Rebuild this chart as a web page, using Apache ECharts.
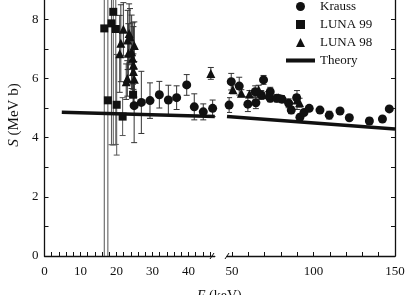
<!DOCTYPE html>
<html><head><meta charset="utf-8">
<script src="https://cdn.jsdelivr.net/npm/echarts@6/dist/echarts.min.js"></script>
<style>html,body{margin:0;padding:0;background:#fff}#c{width:416px;height:295px}</style>
</head><body><div id="c"></div>
<script>
// ---- data ----
const krLeftX = [24.9, 26.9, 29.3, 31.9, 34.4, 36.7, 39.5, 41.6, 44.1, 46.7];
const krLeftY = [5.08, 5.19, 5.25, 5.45, 5.27, 5.35, 5.78, 5.04, 4.87, 4.99];
const krLeftE = [1.25, 1.05, 0.6, 0.45, 0.5, 0.4, 0.35, 0.44, 0.27, 0.28];
const krRightX = [48.3, 49.6, 54.5, 59.8, 64.3, 64.7, 68.0, 69.4, 73.5, 73.5, 77.6, 80.7, 84.8, 86.4, 89.7, 91.7, 94.2, 97.4, 104.0, 109.7, 116.3, 122.0, 134.3, 142.3, 146.5];
const krRightY = [5.10, 5.89, 5.74, 5.13, 5.55, 5.18, 5.44, 5.95, 5.55, 5.33, 5.33, 5.30, 5.16, 4.93, 5.35, 4.69, 4.85, 4.99, 4.93, 4.76, 4.90, 4.67, 4.56, 4.63, 4.97];
const krRightE = [0.25, 0.28, 0.3, 0.25, 0.2, 0.2, 0.15, 0.15, 0.15, 0.12, 0.12, 0.12, 0.15, 0.12, 0.1, 0.1, 0.1, 0.08, 0.08, 0.13, 0.08, 0.08, 0.1, 0.08, 0.08];
const l99X = [16.6, 17.6, 18.6, 19.1, 19.8, 20.05, 21.7, 24.6];
const l99Y = [7.69, 5.26, 7.86, 8.25, 7.67, 5.11, 4.71, 5.45];
const l99E = [9.0, 6.0, 4.1, 4.5, 3.9, 1.7, 0.64, 0.35];
const l98LeftX = [20.9, 21.2, 21.9, 22.7, 23.0, 23.1, 23.3, 23.5, 23.75, 24.2, 24.5, 24.7, 24.7, 24.95, 24.95, 46.2];
const l98LeftY = [6.83, 7.19, 7.66, 5.89, 6.0, 7.30, 6.85, 7.52, 7.41, 6.90, 6.68, 6.45, 6.23, 7.11, 5.97, 6.17];
const l98LeftE = [1.3, 1.3, 0.9, 0.6, 0.6, 1.0, 1.0, 1.0, 0.95, 1.24, 1.2, 1.3, 0.6, 0.8, 0.6, 0.2];
const l98RightX = [50.6, 55.8, 60.8, 66.4, 72.0, 78.5, 89.9, 91.5];
const l98RightY = [5.63, 5.50, 5.47, 5.62, 5.45, 5.35, 5.27, 5.18];
const l98RightE = [0.15, 0.12, 0.12, 0.15, 0.1, 0.1, 0.32, 0.15];
const thLeftX = [4.8, 47.3];
const thLeftY = [4.86, 4.71];
const thRightX = [47, 150];
const thRightY = [4.71, 4.29];
const yTicks = [0, 1, 2, 3, 4, 5, 6, 7, 8];
const yLabels = [0, 2, 4, 6, 8];
const xLeftTicks = [0, 2, 4, 6, 8, 10, 12, 14, 16, 18, 20, 22, 24, 26, 28, 30, 32, 34, 36, 38, 40, 42, 44, 46];
const xLeftLabels = [0, 10, 20, 30, 40];
const xRightTicks = [50, 60, 70, 80, 90, 100, 110, 120, 130, 140, 150];
const xRightLabels = [50, 100, 150];
const seriesNames = ['Krauss', 'LUNA 99', 'LUNA 98', 'Theory'];

const FONT = 'Liberation Serif';
const INK = '#111';
const zip2 = (xs, ys) => xs.map((x, i) => [x, ys[i]]);
const zip3 = (xs, ys, es) => xs.map((x, i) => [x, ys[i], es[i]]);

let errCount = 0;
function errSeries(xs, ys, es, idx, color) {
  errCount++;
  return {
    type: 'custom', name: 'err' + errCount, xAxisIndex: idx, yAxisIndex: idx, clip: true, silent: true,
    data: zip3(xs, ys, es), z: 1,
    renderItem: function (params, api) {
      const x = api.value(0), y = api.value(1), e = api.value(2);
      const a = api.coord([x, y + e]), b = api.coord([x, y - e]);
      const hw = 3;
      const st = { stroke: color, lineWidth: 1 };
      return { type: 'group', children: [
        { type: 'line', shape: { x1: a[0], y1: a[1], x2: b[0], y2: b[1] }, style: st },
        { type: 'line', shape: { x1: a[0] - hw, y1: a[1], x2: a[0] + hw, y2: a[1] }, style: st },
        { type: 'line', shape: { x1: b[0] - hw, y1: b[1], x2: b[0] + hw, y2: b[1] }, style: st }
      ] };
    }
  };
}
function scat(name, xs, ys, idx, symbol, size) {
  return { type: 'scatter', name: name, xAxisIndex: idx, yAxisIndex: idx, data: zip2(xs, ys),
    symbol: symbol, symbolSize: size, itemStyle: { color: INK, opacity: 1 }, z: 3, clip: true };
}
function theory(xs, ys, idx) {
  return { type: 'line', name: 'Theory', xAxisIndex: idx, yAxisIndex: idx, data: zip2(xs, ys),
    symbol: 'none', lineStyle: { color: INK, width: 3.5 }, itemStyle: { color: INK }, z: 4 };
}
const axLine = { show: true, lineStyle: { color: INK, width: 1.3 } };
const lbl = { fontFamily: FONT, fontSize: 13, color: INK };
const SQ = 'path://M0,0L10,0L10,10L0,10Z';
const TRI = 'path://M5,0L10,10L0,10Z';
const BAR = 'path://M0,0L30,0L30,4.2L0,4.2Z';

const option = {
  animation: false,
  backgroundColor: '#fff',
  grid: [
    { left: 44.5, right: 201.2, top: 0, bottom: 39 },
    { left: 227, right: 21, top: 0, bottom: 39 }
  ],
  xAxis: [
    { type: 'value', gridIndex: 0, min: 0, max: 47.3, axisLine: axLine, splitLine: { show: false },
      axisTick: { inside: true, length: 4, customValues: xLeftTicks, lineStyle: { color: INK } },
      axisLabel: Object.assign({ customValues: xLeftLabels, margin: 9 }, lbl) },
    { type: 'value', gridIndex: 1, min: 47, max: 150, axisLine: axLine, splitLine: { show: false },
      axisTick: { inside: true, length: 4, customValues: xRightTicks, lineStyle: { color: INK } },
      axisLabel: Object.assign({ customValues: xRightLabels, margin: 9 }, lbl) }
  ],
  yAxis: [
    { type: 'value', gridIndex: 0, min: 0, max: 8.65, axisLine: axLine, splitLine: { show: false },
      axisTick: { inside: true, length: 4, customValues: yTicks, lineStyle: { color: INK } },
      axisLabel: Object.assign({ customValues: yLabels, margin: 6 }, lbl) },
    { type: 'value', gridIndex: 1, position: 'right', min: 0, max: 8.65, axisLine: axLine, splitLine: { show: false },
      axisTick: { inside: true, length: 4, customValues: yTicks, lineStyle: { color: INK } },
      axisLabel: { show: false } }
  ],
  legend: {
    data: [
      { name: 'Krauss', icon: 'circle' },
      { name: 'LUNA 99', icon: SQ },
      { name: 'LUNA 98', icon: TRI },
      { name: 'Theory', icon: BAR }
    ],
    orient: 'vertical', left: 286, top: 0, padding: 0, itemWidth: 29, itemHeight: 9, itemGap: 5,
    symbolKeepAspect: true,
    textStyle: { fontFamily: FONT, fontSize: 13, color: INK }, selectedMode: false
  },
  graphic: [
    { type: 'text', x: 14, y: 115, rotation: Math.PI / 2,
      style: { text: '{i|S} (MeV b)', fontFamily: FONT, fontSize: 15, fill: INK, align: 'center', verticalAlign: 'middle',
        rich: { i: { fontStyle: 'italic', fontFamily: FONT, fontSize: 15 } } } },
    { type: 'text', left: 197, top: 289, style: { text: '{i|E} (keV)', fontFamily: FONT, fontSize: 14, fill: INK,
      rich: { i: { fontStyle: 'italic', fontFamily: FONT, fontSize: 14 } } } },
    { type: 'line', shape: { x1: 210, y1: 259, x2: 214, y2: 253 }, style: { stroke: INK, lineWidth: 1 } },
    { type: 'line', shape: { x1: 225, y1: 259, x2: 229, y2: 253 }, style: { stroke: INK, lineWidth: 1 } }
  ],
  series: [
    errSeries(l99X, l99Y, l99E, 0, '#555'),
    errSeries(l98LeftX, l98LeftY, l98LeftE, 0, '#333'),
    errSeries(krLeftX, krLeftY, krLeftE, 0, '#333'),
    errSeries(krRightX, krRightY, krRightE, 1, '#333'),
    errSeries(l98RightX, l98RightY, l98RightE, 1, '#333'),
    scat('Krauss', krLeftX, krLeftY, 0, 'circle', 9),
    scat('Krauss', krRightX, krRightY, 1, 'circle', 9),
    scat('LUNA 99', l99X, l99Y, 0, 'rect', 8),
    scat('LUNA 98', l98LeftX, l98LeftY, 0, 'triangle', 9),
    scat('LUNA 98', l98RightX, l98RightY, 1, 'triangle', 9),
    theory(thLeftX, thLeftY, 0),
    theory(thRightX, thRightY, 1)
  ]
};
const chart = echarts.init(document.getElementById('c'), null, { renderer: 'canvas' });
chart.setOption(option);
</script></body></html>
